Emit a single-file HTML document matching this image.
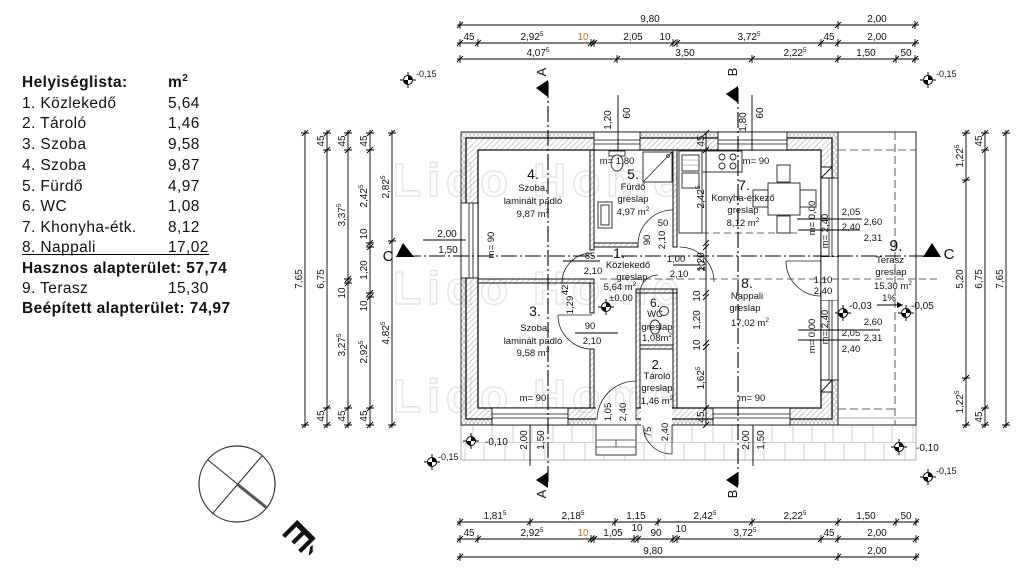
<!DOCTYPE html>
<html><head><meta charset="utf-8">
<style>
html,body{margin:0;padding:0;background:#fff;}
svg{display:block;}
text{font-family:"Liberation Sans",sans-serif;fill:#111;}
.d{font-size:10px;}
.r{font-size:9.5px;}
.n{font-size:14px;}
.lst{font-size:15.5px;letter-spacing:0.4px;fill:#000;}
</style></head><body>
<svg width="1024" height="569" viewBox="0 0 1024 569" xmlns="http://www.w3.org/2000/svg">
<defs>
<pattern id="h" width="4" height="4" patternUnits="userSpaceOnUse" patternTransform="rotate(45)"><line x1="0" y1="0" x2="0" y2="4" stroke="#8a8a8a" stroke-width="0.8"/></pattern>
<pattern id="ins" width="4" height="6" patternUnits="userSpaceOnUse"><path d="M0,0 L4,6 M4,0 L0,6" stroke="#aaa" stroke-width="0.6" fill="none"/></pattern>
<pattern id="pv" patternUnits="userSpaceOnUse" x="461" y="425" width="40" height="35"><path d="M0,17.5 H40 M12,0 V17.5 M31,0 V17.5 M4,17.5 V35 M23,17.5 V35" stroke="#cfcfcf" stroke-width="1" fill="none"/></pattern>
</defs>
<rect width="1024" height="569" fill="#fff"/>

<!-- watermark -->
<g font-family="Liberation Sans, sans-serif" font-weight="bold" font-size="46" letter-spacing="6" fill="none" stroke="#e3e3e3" stroke-width="1.3">
<text x="393" y="196" style="fill:none">Lido Home</text>
<text x="393" y="304" style="fill:none">Lido Home</text>
<text x="393" y="412" style="fill:none">Lido Home</text>
</g>

<!-- Room list -->
<g class="lst">
<text x="22" y="87" font-weight="bold">Helyiséglista:</text><text x="168" y="87" font-weight="bold">m<tspan font-size="10" dy="-6">2</tspan></text>
<text x="22" y="108">1. Közlekedő</text><text x="168" y="108">5,64</text>
<text x="22" y="128">2. Tároló</text><text x="168" y="128">1,46</text>
<text x="22" y="149">3. Szoba</text><text x="168" y="149">9,58</text>
<text x="22" y="170">4. Szoba</text><text x="168" y="170">9,87</text>
<text x="22" y="191">5. Fürdő</text><text x="168" y="191">4,97</text>
<text x="22" y="211">6. WC</text><text x="168" y="211">1,08</text>
<text x="22" y="232">7. Khonyha-étk.</text><text x="168" y="232">8,12</text>
<text x="22" y="252">8. Nappali</text><text x="168" y="252">17,02</text>
<text x="22" y="273" font-weight="bold">Hasznos alapterület: 57,74</text>
<text x="22" y="293">9. Terasz</text><text x="168" y="293">15,30</text>
<text x="22" y="313" font-weight="bold">Beépített alapterület: 74,97</text>
</g>
<line x1="22" y1="254.5" x2="209" y2="254.5" stroke="#000" stroke-width="1"/>

<!-- North arrow -->
<circle cx="237" cy="484" r="38" fill="none" stroke="#333" stroke-width="1.2"/>
<path d="M208,460 L267,508 M262,456 L213,513" stroke="#333" stroke-width="1.1" fill="none"/>
<path d="M237,484 L267,508" stroke="#555" stroke-width="3"/>
<text transform="translate(300,537) rotate(135)" text-anchor="middle" y="14" font-size="38" font-weight="bold" fill="#000">É</text>

<!-- Paving & terrace -->
<rect x="461" y="425" width="455" height="35" fill="url(#pv)" stroke="#999" stroke-width="0.8"/>
<rect x="838" y="132" width="78" height="293" fill="#fff" stroke="#222" stroke-width="1"/>
<path d="M895,132 V425 M838,150 H916 M838,409 H897" stroke="#333" stroke-width="0.8" stroke-dasharray="8,4" fill="none"/>
<path d="M838,418 H916" stroke="#888" stroke-width="0.8" fill="none"/>

<!-- Building walls -->
<path d="M461,132 H838 V425 H461 Z M466,138 H832 V419 H466 Z" fill="url(#ins)" fill-rule="evenodd" stroke="#222" stroke-width="0.9"/>
<path d="M466,138 H832 V419 H466 Z M478,150 H821 V408 H478 Z" fill="url(#h)" fill-rule="evenodd" stroke="#111" stroke-width="1.3"/>

<!-- interior walls -->
<g fill="url(#h)" stroke="#111" stroke-width="1">
<rect x="590" y="150" width="4" height="100"/>
<rect x="478" y="279" width="116" height="4"/>
<rect x="590" y="283" width="4" height="30"/>
<rect x="590" y="349" width="4" height="59"/>
<rect x="594" y="243" width="44" height="4"/>
<rect x="673" y="150" width="4" height="97"/>
<rect x="636" y="289" width="4" height="119"/>
<rect x="636" y="289" width="41" height="4"/>
<rect x="673" y="289" width="4" height="119"/>
<rect x="640" y="345" width="33" height="4"/>
</g>

<!-- windows -->
<g fill="#fff" stroke="#111" stroke-width="0.9">
<rect x="594" y="132" width="46" height="18"/>
<rect x="718" y="132" width="69" height="18"/>
<rect x="461" y="203" width="17" height="75"/>
<rect x="492" y="408" width="76" height="17"/>
<rect x="713" y="408" width="77" height="17"/>
<rect x="821" y="178" width="17" height="79"/>
<rect x="821" y="300" width="17" height="80"/>
</g>
<path d="M594,140 H640 M594,144 H640 M718,140 H787 M718,144 H787 M469,203 V278 M473,203 V278 M492,414 H568 M492,418 H568 M713,414 H790 M713,418 H790 M829,178 V257 M832,178 V257 M829,300 V380 M832,300 V380" stroke="#111" stroke-width="0.8" fill="none"/>
<!-- door openings -->
<rect x="821" y="257" width="17" height="43" fill="#fff"/>
<path d="M821,257 V300 M838,257 V300" stroke="#111" stroke-width="0.8"/>
<rect x="596" y="407" width="40" height="19" fill="#fff"/>
<rect x="641" y="407" width="31" height="19" fill="#fff"/>
<!-- columns with X -->
<g fill="#fff" stroke="#111" stroke-width="1">
<rect x="821" y="167" width="11" height="11"/><path d="M821,178 L832,167"/>
<rect x="821" y="380" width="11" height="12"/><path d="M821,392 L832,380"/>
</g>

<!-- entrance steps -->
<rect x="596" y="425" width="40" height="30" fill="#fff" stroke="#222" stroke-width="0.9"/>
<rect x="596" y="440" width="40" height="7" fill="none" stroke="#444" stroke-width="0.8"/>
<line x1="616" y1="440" x2="616" y2="447" stroke="#444" stroke-width="0.8"/>

<!-- doors -->
<g fill="none" stroke="#222" stroke-width="0.8">
<path d="M562,283 A30,30 0 0 1 592,253"/>
<path d="M558,315 L592,315 M558,315 A34,34 0 0 0 592,349"/>
<path d="M638,245 A35,35 0 0 1 673,210"/>
<path d="M680,247 A35,35 0 0 1 714,282"/>
<path d="M636,420 L636,381 M597,420 A39,39 0 0 1 636,381"/>
<path d="M672,425 L672,454 M643,425 A29,29 0 0 0 672,454"/>
<path d="M786,261 L821,261 M786,261 A35,35 0 0 0 821,296"/>
<path d="M640,293 A18,18 0 0 1 658,275"/>
</g>

<!-- fixtures -->
<g fill="#fff" stroke="#222" stroke-width="0.9">
<rect x="609" y="151" width="16" height="5"/>
<ellipse cx="617" cy="163" rx="6" ry="8"/>
<rect x="643" y="152" width="29" height="30"/>
<rect x="598" y="202" width="14" height="26"/>
<rect x="601" y="205" width="8" height="20"/>
<rect x="679" y="151" width="23" height="82"/>
<rect x="682" y="155" width="17" height="16"/>
<rect x="682" y="173" width="17" height="15"/>
<rect x="702" y="151" width="40" height="21"/>
<circle cx="722" cy="157" r="3"/><circle cx="733" cy="157" r="3"/><circle cx="722" cy="166" r="3"/><circle cx="733" cy="166" r="3"/>
<rect x="777" y="165" width="13" height="17"/>
<rect x="777" y="216" width="13" height="17"/>
<rect x="753" y="190" width="15" height="17"/>
<rect x="800" y="190" width="16" height="17"/>
<rect x="768" y="183" width="32" height="32"/>
<ellipse cx="655" cy="327" rx="5" ry="7"/>
<circle cx="664" cy="311" r="4.5"/>
</g>
<path d="M643,182 L672,152" stroke="#222" stroke-width="0.8"/>
<circle cx="668" cy="156" r="1.5" fill="none" stroke="#222" stroke-width="0.7"/>
<path d="M682,160 H699 M682,165 H699" stroke="#888" stroke-width="0.6"/>

<!-- dashed beam lines -->
<path d="M680,233 H800 M600,279 H940" stroke="#333" stroke-width="0.8" stroke-dasharray="7,4" fill="none"/>

<!-- section lines -->
<g stroke="#000" stroke-width="1.1" fill="none" stroke-dasharray="16,3,2,3">
<path d="M548,82 V485"/>
<path d="M738,88 V485"/>
<path d="M405,256 H930"/>
</g>
<g fill="#000">
<path d="M548,80 L548,97 L536,88 Z"/>
<path d="M548,472 L548,488 L536,480 Z"/>
<path d="M738,86 L738,103 L726,94 Z"/>
<path d="M738,472 L738,488 L726,480 Z"/>
<path d="M396,257 L414,257 L403,243 Z"/>
<path d="M923,257 L941,257 L932,243 Z"/>
</g>
<g font-size="13">
<text transform="translate(546,72) rotate(-90)" text-anchor="middle">A</text>
<text transform="translate(737,72) rotate(-90)" text-anchor="middle">B</text>
<text transform="translate(546,494) rotate(-90)" text-anchor="middle">A</text>
<text transform="translate(737,494) rotate(-90)" text-anchor="middle">B</text>
<text x="388" y="261" font-size="15" text-anchor="middle">C</text>
<text x="949" y="259" font-size="15" text-anchor="middle">C</text>
</g>

<!-- dimension lines -->
<g stroke="#000" stroke-width="0.9" fill="none">
<path d="M457,25 H919 M457,43 H919 M457,59 H919 M457,522 H919 M457,539 H919 M457,557 H919"/>
<path d="M305,130 V428 M327,130 V428 M348,130 V428 M370,130 V428 M392,130 V428 M966,130 V428 M985,130 V428 M1006,130 V428 M706,133 V425"/>
<path d="M460,21V29M457,28L463,22 M838,21V29M835,28L841,22 M915,21V29M912,28L918,22"/>
<path d="M460,39V47M457,46L463,40 M478,39V47M475,46L481,40 M591,39V47M588,46L594,40 M594,39V47M591,46L597,40 M673,39V47M670,46L676,40 M677,39V47M674,46L680,40 M821,39V47M818,46L824,40 M838,39V47M835,46L841,40 M915,39V47M912,46L918,40"/>
<path d="M460,55V63M457,62L463,56 M617,55V63M614,62L620,56 M752,55V63M749,62L755,56 M838,55V63M835,62L841,56 M896,55V63M893,62L899,56 M915,55V63M912,62L918,56"/>
<path d="M460,518V526M457,525L463,519 M530,518V526M527,525L533,519 M615,518V526M612,525L618,519 M658,518V526M655,525L661,519 M752,518V526M749,525L755,519 M838,518V526M835,525L841,519 M896,518V526M893,525L899,519 M916,518V526M913,525L919,519"/>
<path d="M460,535V543M457,542L463,536 M478,535V543M475,542L481,536 M591,535V543M588,542L594,536 M594,535V543M591,542L597,536 M634,535V543M631,542L637,536 M638,535V543M635,542L641,536 M673,535V543M670,542L676,536 M677,535V543M674,542L680,536 M821,535V543M818,542L824,536 M838,535V543M835,542L841,536 M916,535V543M913,542L919,536"/>
<path d="M460,553V561M457,560L463,554 M838,553V561M835,560L841,554 M916,553V561M913,560L919,554"/>
<path d="M301,133H309M302,136L308,130 M301,425H309M302,428L308,422"/>
<path d="M323,133H331M324,136L330,130 M323,150H331M324,153L330,147 M323,408H331M324,411L330,405 M323,425H331M324,428L330,422"/>
<path d="M344,133H352M345,136L351,130 M344,150H352M345,153L351,147 M344,279H352M345,282L351,276 M344,283H352M345,286L351,280 M344,408H352M345,411L351,405 M344,425H352M345,428L351,422"/>
<path d="M366,133H374M367,136L373,130 M366,150H374M367,153L373,147 M366,243H374M367,246L373,240 M366,247H374M367,250L373,244 M366,293H374M367,296L373,290 M366,297H374M367,300L373,294 M366,408H374M367,411L373,405 M366,425H374M367,428L373,422"/>
<path d="M388,133H396M389,136L395,130 M388,241H396M389,244L395,238 M388,425H396M389,428L395,422"/>
<path d="M962,133H970M963,136L969,130 M962,180H970M963,183L969,177 M962,378H970M963,381L969,375 M962,425H970M963,428L969,422"/>
<path d="M981,133H989M982,136L988,130 M981,150H989M982,153L988,147 M981,408H989M982,411L988,405 M981,425H989M982,428L988,422"/>
<path d="M1002,133H1010M1003,136L1009,130 M1002,425H1010M1003,428L1009,422"/>
<path d="M703,136L709,130 M703,153L709,147 M703,246L709,240 M703,250L709,244 M703,296L709,290 M703,300L709,294 M703,346L709,340 M703,350L709,344 M703,411L709,405 M703,428L709,422"/>
<!-- misc dim lines -->
<path d="M618,95 V150 M752,95 V150 M423,240 H466 M530,425 V466 M753,425 V466"/>
<path d="M797,219 H862 M798,230 H860 M798,330 H880 M798,340 H860 M563,261 H600 M575,333 H618 M673,265 H700"/>
<path d="M877,305 H903"/>
</g>
<path d="M903,305 L897,302 L897,308 Z" fill="#000"/>

<!-- horizontal dim texts -->
<g class="d" text-anchor="middle">
<text x="650" y="22">9,80</text><text x="877" y="22">2,00</text>
<text x="469" y="40">45</text><text x="532" y="40">2,92<tspan font-size="6.5" dy="-4">5</tspan></text><text x="583" y="40" style="fill:#b87a2a">10</text><text x="633" y="40">2,05</text><text x="665" y="40">10</text><text x="749" y="40">3,72<tspan font-size="6.5" dy="-4">5</tspan></text><text x="829" y="40">45</text><text x="877" y="40">2,00</text>
<text x="538" y="56">4,07<tspan font-size="6.5" dy="-4">5</tspan></text><text x="685" y="56">3,50</text><text x="795" y="56">2,22<tspan font-size="6.5" dy="-4">5</tspan></text><text x="866" y="56">1,50</text><text x="906" y="56">50</text>
<text x="495" y="519">1,81<tspan font-size="6.5" dy="-4">5</tspan></text><text x="573" y="519">2,18<tspan font-size="6.5" dy="-4">5</tspan></text><text x="636" y="519">1,15</text><text x="705" y="519">2,42<tspan font-size="6.5" dy="-4">5</tspan></text><text x="795" y="519">2,22<tspan font-size="6.5" dy="-4">5</tspan></text><text x="866" y="519">1,50</text><text x="906" y="519">50</text>
<text x="469" y="536">45</text><text x="532" y="536">2,92<tspan font-size="6.5" dy="-4">5</tspan></text><text x="583" y="536" style="fill:#b87a2a">10</text><text x="613" y="536">1,05</text><text x="637" y="531">10</text><text x="656" y="536">90</text><text x="681" y="532">10</text><text x="745" y="536">3,72<tspan font-size="6.5" dy="-4">5</tspan></text><text x="829" y="536">45</text><text x="877" y="536">2,00</text>
<text x="653" y="554">9,80</text><text x="877" y="554">2,00</text>
<text x="447" y="237">2,00</text><text x="448" y="253">1,50</text>
</g>

<!-- vertical dim texts -->
<g class="d" text-anchor="middle">
<text transform="translate(302,279) rotate(-90)">7,65</text>
<text transform="translate(324,141) rotate(-90)">45</text><text transform="translate(324,279) rotate(-90)">6,75</text><text transform="translate(324,416) rotate(-90)">45</text>
<text transform="translate(345,141) rotate(-90)">45</text><text transform="translate(345,215) rotate(-90)">3,37<tspan font-size="6.5" dy="-4">5</tspan></text><text transform="translate(345,293) rotate(-90)">10</text><text transform="translate(345,345) rotate(-90)">3,27<tspan font-size="6.5" dy="-4">5</tspan></text><text transform="translate(345,416) rotate(-90)">45</text>
<text transform="translate(367,141) rotate(-90)">45</text><text transform="translate(367,196) rotate(-90)">2,42<tspan font-size="6.5" dy="-4">5</tspan></text><text transform="translate(367,234) rotate(-90)">10</text><text transform="translate(367,270) rotate(-90)">1,20</text><text transform="translate(367,306) rotate(-90)">10</text><text transform="translate(367,352) rotate(-90)">2,92<tspan font-size="6.5" dy="-4">5</tspan></text><text transform="translate(367,416) rotate(-90)">45</text>
<text transform="translate(389,187) rotate(-90)">2,82<tspan font-size="6.5" dy="-4">5</tspan></text><text transform="translate(389,333) rotate(-90)">4,82<tspan font-size="6.5" dy="-4">5</tspan></text>
<text transform="translate(963,156) rotate(-90)">1,22<tspan font-size="6.5" dy="-4">5</tspan></text><text transform="translate(963,279) rotate(-90)">5,20</text><text transform="translate(963,402) rotate(-90)">1,22<tspan font-size="6.5" dy="-4">5</tspan></text>
<text transform="translate(982,141) rotate(-90)">45</text><text transform="translate(982,279) rotate(-90)">6,75</text><text transform="translate(982,417) rotate(-90)">45</text>
<text transform="translate(1003,279) rotate(-90)">7,65</text>
<text transform="translate(704,141) rotate(-90)">45</text><text transform="translate(704,197) rotate(-90)">2,42<tspan font-size="6.5" dy="-4">5</tspan></text><text transform="translate(704,262) rotate(-90)">1,20</text><text transform="translate(700,296) rotate(-90)">10</text><text transform="translate(700,320) rotate(-90)">1,20</text><text transform="translate(700,345) rotate(-90)">10</text><text transform="translate(704,378) rotate(-90)">1,62<tspan font-size="6.5" dy="-4">5</tspan></text><text transform="translate(704,417) rotate(-90)">45</text>
<text transform="translate(611,120) rotate(-90)">1,20</text><text transform="translate(630,113) rotate(-90)">60</text>
<text transform="translate(746,122) rotate(-90)">1,80</text><text transform="translate(763,113) rotate(-90)">60</text>
<text transform="translate(527,440) rotate(-90)">2,00</text><text transform="translate(544,440) rotate(-90)">1,50</text>
<text transform="translate(749,440) rotate(-90)">2,00</text><text transform="translate(764,440) rotate(-90)">1,50</text>
</g>

<!-- room texts -->
<g class="r" text-anchor="middle">
<text x="533" y="179" class="n">4.</text>
<text x="533" y="191">Szoba,</text><text x="533" y="204">laminált padló</text><text x="533" y="217">9,87 m<tspan font-size="6.5" dy="-4">2</tspan></text>
<text transform="translate(494,245) rotate(-90)">m= 90</text>
<text x="617" y="164">m= 1,80</text>
<text x="633" y="179" class="n">5.</text>
<text x="633" y="190">Fürdő</text><text x="633" y="202">greslap</text><text x="633" y="215">4,97 m<tspan font-size="6.5" dy="-4">2</tspan></text>
<text x="663" y="226">50</text>
<text transform="translate(650,240) rotate(-90)">90</text><text transform="translate(665,240) rotate(-90)">2,10</text>
<text x="756" y="164">m= 90</text>
<text x="744" y="190" class="n">7.</text>
<text x="743" y="201">Konyha-étkező</text><text x="743" y="213">greslap</text><text x="743" y="226">8,12 m<tspan font-size="6.5" dy="-4">2</tspan></text>
<text x="619" y="258" class="n" font-size="13">1.</text>
<text x="628" y="268">Közlekedő</text><text x="632" y="280">greslap</text><text x="620" y="290">5,64 m<tspan font-size="6.5" dy="-4">2</tspan></text><text x="621" y="301">±0,00</text>
<text x="590" y="259">85</text><text x="593" y="274">2,10</text>
<text x="676" y="262">1,00</text><text x="679" y="277">2,10</text>
<text transform="translate(705,266) rotate(-90)">20</text>
<text transform="translate(568,290) rotate(-90)">42</text><text transform="translate(573,305) rotate(-90)">1,29</text>
<text x="535" y="316" class="n">3.</text>
<text x="535" y="331">Szoba,</text><text x="533" y="344">laminált padló</text><text x="533" y="356">9,58 m<tspan font-size="6.5" dy="-4">2</tspan></text>
<text x="533" y="401">m= 90</text>
<text x="590" y="329">90</text><text x="592" y="344">2,10</text>
<text x="655" y="307" font-size="12">6.</text>
<text x="655" y="317">WC</text><text x="657" y="330">greslap</text><text x="657" y="341">1,08m<tspan font-size="6.5" dy="-4">2</tspan></text>
<text x="657" y="369" font-size="13">2.</text>
<text x="657" y="379">Tároló</text><text x="657" y="391">greslap</text><text x="657" y="404">1,46 m<tspan font-size="6.5" dy="-4">2</tspan></text>
<text transform="translate(611,412) rotate(-90)">1,05</text><text transform="translate(626,412) rotate(-90)">2,40</text>
<text transform="translate(651,432) rotate(-90)">75</text><text transform="translate(668,432) rotate(-90)">2,40</text>
<text x="747" y="288" class="n">8.</text>
<text x="747" y="299">Nappali</text><text x="745" y="311">greslap</text><text x="750" y="326">17,02 m<tspan font-size="6.5" dy="-4">2</tspan></text>
<text x="752" y="401">m= 90</text>
<text transform="translate(815,218) rotate(-90)">m= 0,00</text><text transform="translate(828,231) rotate(-90)">m= 2,40</text>
<text transform="translate(815,336) rotate(-90)">m= 0,00</text><text transform="translate(828,327) rotate(-90)">m= 2,40</text>
<text x="823" y="283">1,10</text><text x="823" y="294">2,40</text>
<text x="851" y="215">2,05</text><text x="851" y="230">2,40</text><text x="873" y="225">2,60</text><text x="873" y="241">2,31</text>
<text x="873" y="325">2,60</text><text x="851" y="336">2,05</text><text x="873" y="341">2,31</text><text x="851" y="352">2,40</text>
<text x="896" y="251" font-size="16">9.</text>
<text x="890" y="263">Terasz</text><text x="891" y="275">greslap</text><text x="893" y="289">15,30 m<tspan font-size="6.5" dy="-4">2</tspan></text>
<text x="889" y="301">1%</text>
</g>

<!-- level markers -->
<g stroke="#000" stroke-width="1">
<g transform="translate(408,80)"><path d="M-8,0H8M0,-8V8"/><circle r="4.5" fill="#fff"/><path d="M0,0V-4.5A4.5,4.5 0 0 1 4.5,0Z M0,0V4.5A4.5,4.5 0 0 1 -4.5,0Z" fill="#000" stroke="none"/></g>
<g transform="translate(928,80)"><path d="M-8,0H8M0,-8V8"/><circle r="4.5" fill="#fff"/><path d="M0,0V-4.5A4.5,4.5 0 0 1 4.5,0Z M0,0V4.5A4.5,4.5 0 0 1 -4.5,0Z" fill="#000" stroke="none"/></g>
<g transform="translate(432,462)"><path d="M-8,0H8M0,-8V8"/><circle r="4.5" fill="#fff"/><path d="M0,0V-4.5A4.5,4.5 0 0 1 4.5,0Z M0,0V4.5A4.5,4.5 0 0 1 -4.5,0Z" fill="#000" stroke="none"/></g>
<g transform="translate(928,477)"><path d="M-8,0H8M0,-8V8"/><circle r="4.5" fill="#fff"/><path d="M0,0V-4.5A4.5,4.5 0 0 1 4.5,0Z M0,0V4.5A4.5,4.5 0 0 1 -4.5,0Z" fill="#000" stroke="none"/></g>
<g transform="translate(471,441)"><path d="M-8,0H8M0,-8V8"/><circle r="4.5" fill="#fff"/><path d="M0,0V-4.5A4.5,4.5 0 0 1 4.5,0Z M0,0V4.5A4.5,4.5 0 0 1 -4.5,0Z" fill="#000" stroke="none"/></g>
<g transform="translate(899,447)"><path d="M-8,0H8M0,-8V8"/><circle r="4.5" fill="#fff"/><path d="M0,0V-4.5A4.5,4.5 0 0 1 4.5,0Z M0,0V4.5A4.5,4.5 0 0 1 -4.5,0Z" fill="#000" stroke="none"/></g>
<g transform="translate(606,307)"><path d="M-8,0H8M0,-8V8"/><circle r="4.5" fill="#fff"/><path d="M0,0V-4.5A4.5,4.5 0 0 1 4.5,0Z M0,0V4.5A4.5,4.5 0 0 1 -4.5,0Z" fill="#000" stroke="none"/></g>
<g transform="translate(843,313)"><path d="M-8,0H8M0,-8V8"/><circle r="4.5" fill="#fff"/><path d="M0,0V-4.5A4.5,4.5 0 0 1 4.5,0Z M0,0V4.5A4.5,4.5 0 0 1 -4.5,0Z" fill="#000" stroke="none"/></g>
<g transform="translate(906,313)"><path d="M-8,0H8M0,-8V8"/><circle r="4.5" fill="#fff"/><path d="M0,0V-4.5A4.5,4.5 0 0 1 4.5,0Z M0,0V4.5A4.5,4.5 0 0 1 -4.5,0Z" fill="#000" stroke="none"/></g>
</g>
<g class="d">
<text x="416" y="77" font-size="9">-0,15</text>
<text x="936" y="77" font-size="9">-0,15</text>
<text x="438" y="460" font-size="9">-0,15</text>
<text x="936" y="474" font-size="9">-0,15</text>
<text x="485" y="445">-0,10</text>
<text x="916" y="451">-0,10</text>
<text x="849" y="309">-0,03</text>
<text x="911" y="309">-0,05</text>
</g>
</svg>
</body></html>
